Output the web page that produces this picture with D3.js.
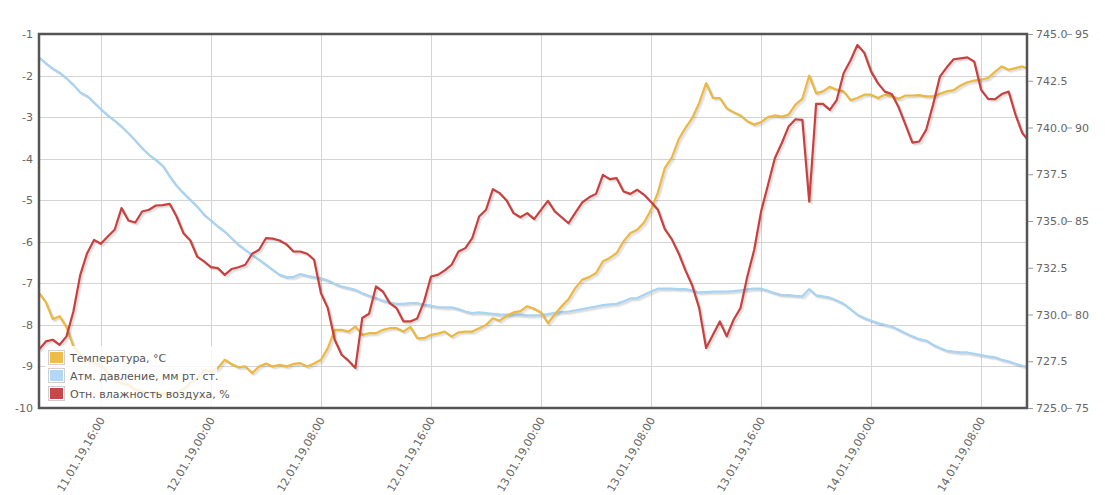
<!DOCTYPE html>
<html lang="ru">
<head>
<meta charset="utf-8">
<title>Метеостанция</title>
<script src="https://cdn.jsdelivr.net/npm/d3@7"></script>
<style>
  body { margin: 0; background: #fff; }
  text { font-family: "DejaVu Sans", Verdana, sans-serif; font-size: 11px; fill: #666; }
</style>
</head>
<body>
<script>
// half-hour readings, 11.01.19 11:30 ... 14.01.19 11:30
var startTime = new Date(2019, 0, 11, 11, 30)
var stepMinutes = 30

var temperature = [
  -7.23,-7.46,-7.86,-7.79,-8.06,-8.52,-8.72,-8.88,-8.92,-8.96,
  -9.16,-9.32,-9.40,-9.44,-9.56,-9.60,-9.64,-9.62,-9.66,-9.64,
  -9.62,-9.54,-9.40,-9.28,-9.08,-9.12,-9.04,-8.84,-8.94,-9.02,
  -9.00,-9.16,-9.00,-8.93,-9.00,-8.96,-9.00,-8.94,-8.92,-9.00,
  -8.93,-8.84,-8.56,-8.12,-8.12,-8.16,-8.04,-8.24,-8.20,-8.20,
  -8.12,-8.08,-8.08,-8.16,-8.05,-8.32,-8.32,-8.24,-8.21,-8.16,
  -8.28,-8.18,-8.16,-8.16,-8.08,-8.00,-7.84,-7.90,-7.78,-7.70,
  -7.67,-7.55,-7.61,-7.70,-7.96,-7.75,-7.55,-7.38,-7.11,-6.91,
  -6.85,-6.75,-6.47,-6.39,-6.27,-5.99,-5.79,-5.71,-5.53,-5.23,
  -4.81,-4.22,-3.98,-3.54,-3.26,-3.02,-2.66,-2.18,-2.54,-2.54,
  -2.79,-2.88,-2.96,-3.10,-3.18,-3.12,-3.00,-2.96,-2.99,-2.94,
  -2.70,-2.56,-2.00,-2.43,-2.38,-2.27,-2.34,-2.38,-2.59,-2.54,
  -2.46,-2.46,-2.54,-2.46,-2.50,-2.56,-2.48,-2.48,-2.47,-2.50,
  -2.50,-2.44,-2.38,-2.35,-2.24,-2.16,-2.12,-2.10,-2.06,-1.91,
  -1.78,-1.86,-1.82,-1.78,-1.84
]
var pressure = [
  743.75,743.43,743.15,742.93,742.63,742.28,741.87,741.69,741.33,740.98,
  740.65,740.37,740.05,739.69,739.30,738.89,738.54,738.27,737.95,737.38,
  736.88,736.49,736.13,735.77,735.33,735.03,734.71,734.44,734.08,733.73,
  733.46,733.19,732.93,732.66,732.39,732.12,732.00,732.00,732.16,732.07,
  732.00,731.93,731.82,731.64,731.50,731.41,731.32,731.14,731.00,730.88,
  730.74,730.65,730.57,730.57,730.61,730.61,730.52,730.47,730.40,730.38,
  730.38,730.29,730.16,730.08,730.11,730.08,730.04,729.99,729.99,729.99,
  729.99,729.95,729.95,729.97,730.02,730.09,730.13,730.16,730.22,730.29,
  730.36,730.43,730.50,730.54,730.57,730.70,730.86,730.88,731.06,731.23,
  731.38,731.39,731.38,731.36,731.36,731.29,731.18,731.20,731.22,731.22,
  731.23,731.25,731.29,731.34,731.39,731.38,731.27,731.14,731.04,731.04,
  731.00,730.97,731.36,731.02,730.97,730.90,730.75,730.57,730.29,729.99,
  729.81,729.67,729.54,729.45,729.36,729.18,729.00,728.83,728.68,728.61,
  728.38,728.21,728.06,728.01,727.97,727.97,727.90,727.83,727.76,727.71,
  727.58,727.49,727.37,727.26,727.19
]
var humidity = [
  78.12,78.56,78.65,78.38,78.83,80.16,82.12,83.28,83.99,83.78,
  84.17,84.53,85.69,85.03,84.92,85.51,85.60,85.83,85.85,85.92,
  85.24,84.35,83.96,83.10,82.84,82.53,82.48,82.12,82.43,82.53,
  82.66,83.25,83.46,84.08,84.06,83.96,83.75,83.37,83.37,83.25,
  82.93,81.14,80.34,78.65,77.85,77.53,77.14,79.81,80.04,81.50,
  81.23,80.61,80.34,79.63,79.63,79.79,80.70,82.03,82.12,82.36,
  82.66,83.37,83.55,84.08,85.24,85.60,86.70,86.49,86.10,85.42,
  85.20,85.42,85.10,85.60,86.08,85.51,85.20,84.88,85.45,85.99,
  86.27,86.45,87.47,87.24,87.29,86.58,86.45,86.67,86.40,86.02,
  85.60,84.56,84.03,83.28,82.36,81.54,80.34,78.21,78.92,79.63,
  78.83,79.72,80.34,82.03,83.46,85.51,86.93,88.36,89.16,90.05,
  90.44,90.41,86.04,91.26,91.26,90.94,91.47,92.90,93.58,94.41,
  94.00,92.99,92.36,91.92,91.79,91.08,90.14,89.19,89.25,89.87,
  91.21,92.72,93.22,93.65,93.70,93.75,93.52,92.01,91.53,91.51,
  91.79,91.92,90.67,89.69,89.25
]

var seriesNames = ["Температура, °C", "Атм. давление, мм рт. ст.", "Отн. влажность воздуха, %"]
var seriesColors = ["#ebb841", "#a9d3f3", "#c8413f"]
var swatchColors = ["#ecbd49", "#b1d8f6", "#c9474a"]

var tempTicks = [-10, -9, -8, -7, -6, -5, -4, -3, -2, -1]
var pressTicks = [725, 727.5, 730, 732.5, 735, 737.5, 740, 742.5, 745]
var humTicks = [75, 80, 85, 90, 95]
var timeTicks = [
  new Date(2019, 0, 11, 16), new Date(2019, 0, 12, 0), new Date(2019, 0, 12, 8),
  new Date(2019, 0, 12, 16), new Date(2019, 0, 13, 0), new Date(2019, 0, 13, 8),
  new Date(2019, 0, 13, 16), new Date(2019, 0, 14, 0), new Date(2019, 0, 14, 8)
]

var width = 1105, height = 495
var plotL = 39, plotT = 34, plotR = 1027, plotB = 408

var svg = d3.select("body").append("svg").attr("width", width).attr("height", height)

var times = temperature.map(function(d, i) { return new Date(startTime.getTime() + i * stepMinutes * 60000) })

var x = d3.scaleTime()
  .domain([new Date(2019, 0, 11, 11, 30), new Date(2019, 0, 14, 11, 20)])
  .range([plotL, plotR])
var yT = d3.scaleLinear().domain([-10, -1]).range([plotB, plotT])
var yP = d3.scaleLinear().domain([725, 745]).range([plotB, plotT])
var yH = d3.scaleLinear().domain([75, 95]).range([plotB, plotT])

// grid
svg.append("g").selectAll("line").data(tempTicks).enter().append("line")
  .attr("x1", plotL).attr("x2", plotR)
  .attr("y1", function(d) { return Math.round(yT(d)) + 0.5 })
  .attr("y2", function(d) { return Math.round(yT(d)) + 0.5 })
  .attr("stroke", "#d4d4d4")
svg.append("g").selectAll("line").data(timeTicks).enter().append("line")
  .attr("x1", function(d) { return Math.round(x(d)) + 0.5 })
  .attr("x2", function(d) { return Math.round(x(d)) + 0.5 })
  .attr("y1", plotT).attr("y2", plotB)
  .attr("stroke", "#d4d4d4")

svg.append("clipPath").attr("id", "plot")
  .append("rect").attr("x", plotL).attr("y", plotT).attr("width", plotR - plotL).attr("height", plotB - plotT)

var plot = svg.append("g").attr("clip-path", "url(#plot)")

function drawSeries(values, yScale, color) {
  var line = d3.line()
    .x(function(d, i) { return x(times[i]) })
    .y(function(d) { return yScale(d) })
  // soft shadow like the original renderer
  for (var j = 3; j >= 1; j--) {
    plot.append("path").datum(values)
      .attr("d", line)
      .attr("transform", "translate(" + (j * 0.8) + "," + (j * 0.8) + ")")
      .attr("fill", "none")
      .attr("stroke", "rgba(0,0,0,0.06)")
      .attr("stroke-width", 2.2)
      .attr("stroke-linejoin", "round")
  }
  plot.append("path").datum(values)
    .attr("d", line)
    .attr("fill", "none")
    .attr("stroke", color)
    .attr("stroke-width", 2.2)
    .attr("stroke-linejoin", "round")
}

drawSeries(pressure, yP, seriesColors[1])
drawSeries(temperature, yT, seriesColors[0])
drawSeries(humidity, yH, seriesColors[2])

// legend
var legend = svg.append("g")
legend.append("rect")
  .attr("x", 45).attr("y", 346).attr("width", 172).attr("height", 61)
  .attr("fill", "rgba(255,255,255,0.82)")
var items = legend.selectAll("g.item").data(seriesNames).enter().append("g")
  .attr("transform", function(d, i) { return "translate(48," + (350 + i * 18) + ")" })
items.append("rect")
  .attr("x", 0.5).attr("y", 0.5).attr("width", 16).attr("height", 14)
  .attr("fill", "#fff").attr("stroke", "#cfcfcf")
items.append("rect")
  .attr("x", 2).attr("y", 2).attr("width", 13).attr("height", 11)
  .attr("fill", function(d, i) { return swatchColors[i] })
items.append("text")
  .attr("x", 22).attr("y", 11.5)
  .style("fill", "#555")
  .text(function(d) { return d })

// frame
svg.append("rect")
  .attr("x", plotL).attr("y", plotT).attr("width", plotR - plotL).attr("height", plotB - plotT)
  .attr("fill", "none").attr("stroke", "#555").attr("stroke-width", 2.5)

// axes
var axL = svg.append("g").attr("transform", "translate(" + plotL + ",0)")
  .call(d3.axisLeft(yT).tickValues(tempTicks).tickSize(0).tickPadding(6)
    .tickFormat(function(d) { return String(d) }))
axL.select(".domain").remove()

var axP = svg.append("g").attr("transform", "translate(1028,0)")
  .call(d3.axisRight(yP).tickValues(pressTicks).tickSize(5).tickPadding(3).tickFormat(d3.format(".1f")))
axP.select(".domain").remove()

var axH = svg.append("g").attr("transform", "translate(1067,0)")
  .call(d3.axisRight(yH).tickValues(humTicks).tickSize(5).tickPadding(3).tickFormat(d3.format("d")))
axH.select(".domain").remove()

svg.selectAll(".tick line").attr("stroke", "#999")
svg.selectAll(".tick text").style("fill", "#666").style("font-size", "11px")
  .style("font-family", "'DejaVu Sans', Verdana, sans-serif")

var fmt = d3.timeFormat("%d.%m.%y,%H:%M")
svg.append("g").selectAll("text").data(timeTicks).enter().append("text")
  .attr("transform", function(d) { return "translate(" + (x(d) + 1) + ",418) rotate(-60)" })
  .attr("text-anchor", "end")
  .attr("dy", "0.35em")
  .text(function(d) { return fmt(d) })
</script>
</body>
</html>
